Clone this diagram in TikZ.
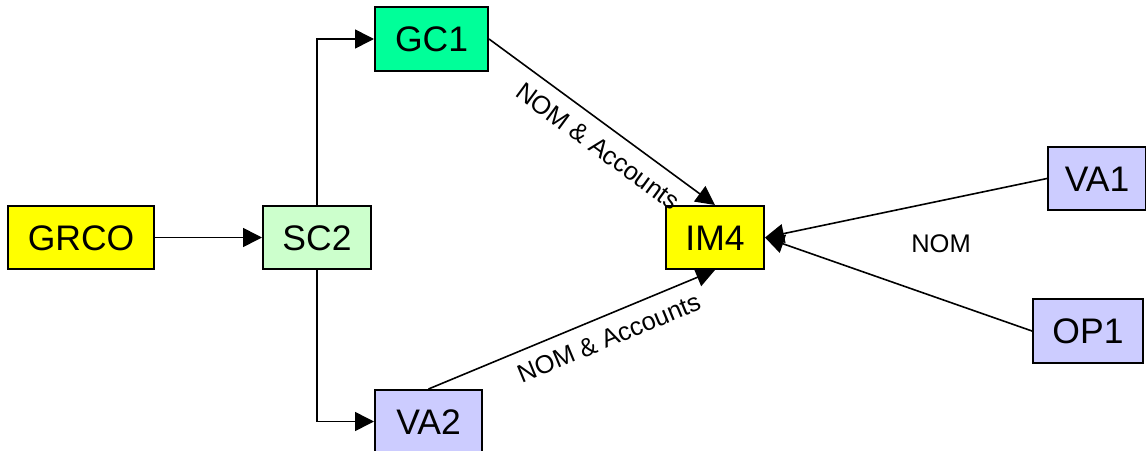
\documentclass[tikz,border=0pt]{standalone}
\usepackage{fontspec}
\setmainfont{Liberation Sans}
\usetikzlibrary{arrows.meta}
\definecolor{cyel}{HTML}{FFFF00}
\definecolor{cgreen}{HTML}{00FF99}
\definecolor{clgreen}{HTML}{CCFFCC}
\definecolor{clav}{HTML}{CCCCFF}
\begin{document}
\begin{tikzpicture}[x=1pt,y=-1pt,
  box/.style={draw=black, line width=2pt, inner sep=0pt, minimum height=63pt,
    font=\fontsize{35.5}{40}\selectfont, text height=25.5pt, text depth=0pt},
  conn/.style={line width=1.6pt, -{Triangle[length=19pt,width=19pt]}},
  lbl/.style={font=\fontsize{25.5}{30}\selectfont, inner sep=0pt}]
\useasboundingbox (0,0) rectangle (1146,450);
\node[box, fill=cyel, minimum width=146pt] (grco) at (81,237.5) {GRCO};
\node[box, fill=clgreen, minimum width=108pt] (sc2) at (317,237.5) {SC2};
\node[box, fill=cgreen, minimum width=113pt, minimum height=64pt] (gc1) at (431.5,39) {GC1};
\node[box, fill=clav, minimum width=107pt] (va2) at (428.5,421.5) {VA2};
\node[box, fill=cyel, minimum width=98pt] (im4) at (715,237.5) {IM4};
\node[box, fill=clav, minimum width=98pt] (va1) at (1097,178.5) {VA1};
\node[box, fill=clav, minimum width=110pt, minimum height=64pt] (op1) at (1088,331) {OP1};

\draw[conn] (grco) -- (sc2);
\draw[conn] (sc2.north) |- (gc1.west);
\draw[conn] (sc2.south) |- (va2.west);
\draw[conn] (gc1.east) -- node[lbl, sloped, pos=0.54, anchor=north, outer sep=13pt] {NOM \& Accounts} (im4.north);
\draw[conn] (va2.north) -- node[lbl, sloped, pos=0.60, anchor=north, outer sep=13pt] {NOM \& Accounts} (im4.south);
\draw[conn] (va1.west) -- (im4.east);
\draw[conn] (op1.west) -- (im4.east);
\node[lbl] (nom) at (941,244) {NOM};
\end{tikzpicture}
\end{document}
